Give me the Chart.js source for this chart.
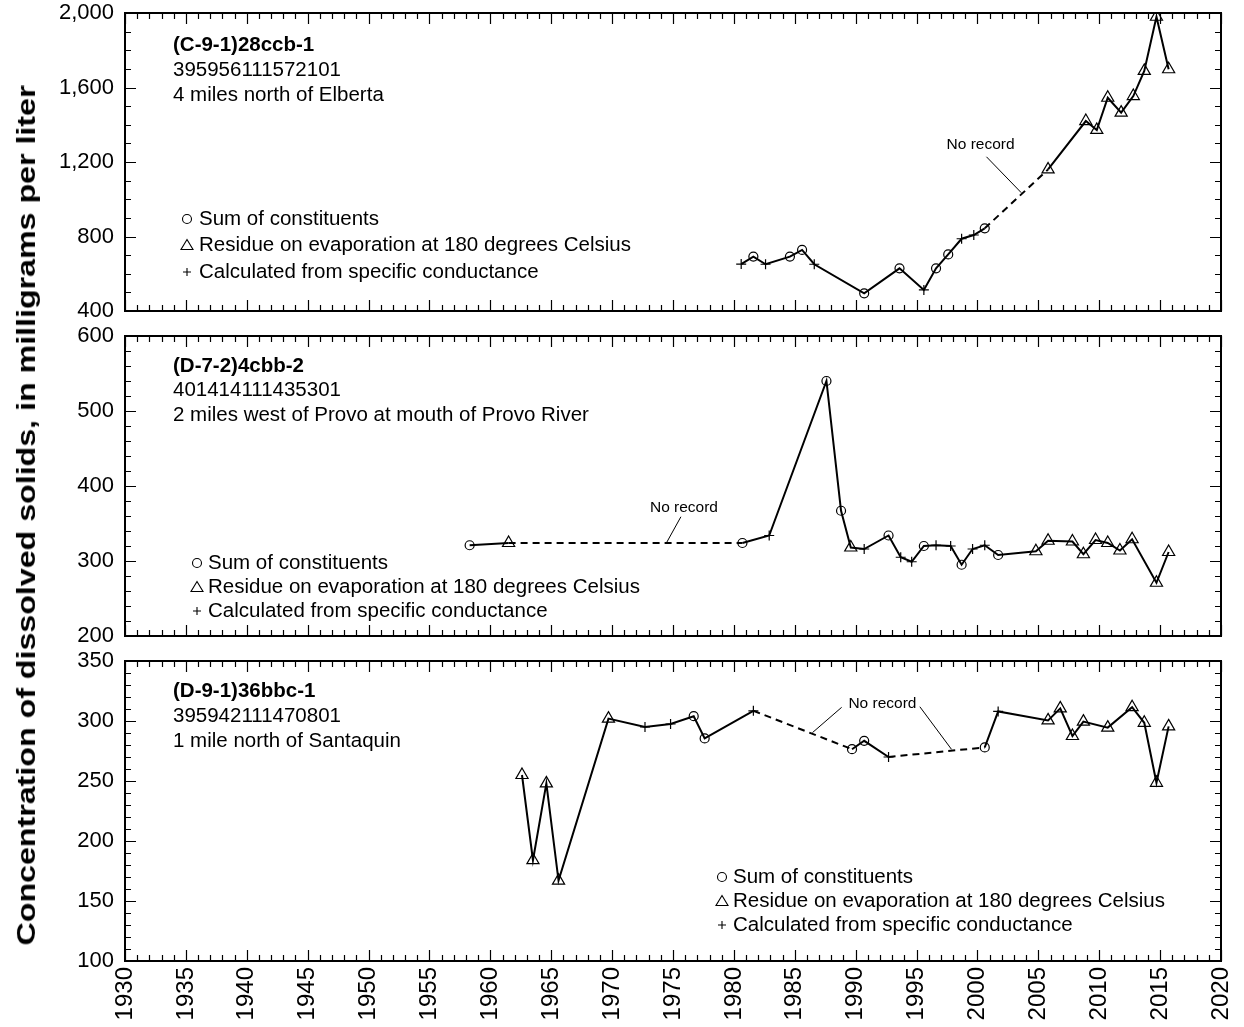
<!DOCTYPE html>
<html><head><meta charset="utf-8">
<script src="https://cdn.jsdelivr.net/npm/chart.js@4.4.0/dist/chart.umd.min.js"></script>
<style>
html,body{margin:0;padding:0;background:#fff;}
#wrap{position:relative;width:1244px;height:1027px;overflow:hidden;background:#fff;}
canvas{position:absolute;left:0;}
#ytitle{position:absolute;font:bold 26px "Liberation Sans",Arial,sans-serif;white-space:nowrap;color:#000;transform-origin:50% 50%;}
</style></head><body>
<div id="wrap">
<canvas id="c1" width="1244" height="323" style="top:0px"></canvas>
<canvas id="c2" width="1244" height="325" style="top:323px"></canvas>
<canvas id="c3" width="1244" height="379" style="top:648px"></canvas>
<div id="ytitle">Concentration of dissolved solids, in milligrams per liter</div>
</div>
<script>
// ---- Data: S = Sum of constituents, R = Residue on evaporation, C = Calculated from specific conductance
const elbertaYears  = [1980.6,1981.6,1982.6,1984.6,1985.6,1986.6,1990.7,1993.6,1995.6,1996.6,1997.6,1998.7,1999.7,2000.6,2005.8,2008.9,2009.8,2010.7,2011.8,2012.8,2013.7,2014.7,2015.7];
const elbertaValues = [652,692,651,692,728,651,495,629,513,629,704,788,808,844,1160,1420,1372,1545,1465,1554,1689,1980,1698];
const elbertaTypes  = ['C','S','C','S','S','C','S','S','C','S','S','C','C','S','R','R','R','R','R','R','R','R','R'];
const elbertaGaps   = [13];

const provoYears  = [1958.3,1961.5,1980.7,1982.9,1987.6,1988.8,1989.6,1990.7,1992.7,1993.7,1994.6,1995.6,1996.6,1997.8,1998.7,1999.6,2000.6,2001.7,2004.8,2005.8,2007.8,2008.7,2009.7,2010.7,2011.7,2012.7,2014.7,2015.7];
const provoValues = [321,324,324,334,540,367,318,316,334,305,299,320,321,320,295,316,321,308,313,327,326,309,328,324,314,329,271,312];
const provoTypes  = ['S','R','S','C','S','S','R','C','S','C','C','S','C','C','S','C','C','S','R','R','R','R','R','R','R','R','R','R'];
const provoGaps   = [1];

const santaquinYears  = [1962.6,1963.5,1964.6,1965.6,1969.7,1972.7,1974.8,1976.7,1977.6,1981.6,1989.7,1990.7,1992.7,2000.6,2001.7,2005.8,2006.8,2007.8,2008.7,2010.7,2012.7,2013.7,2014.7,2015.7];
const santaquinValues = [255,184,248,167,302,295,297.5,304,285.5,308.5,276.5,283.5,270,278,308,300.5,310.5,287.5,299.5,294.5,311.5,298.5,248.5,295.5];
const santaquinTypes  = ['R','R','R','R','R','C','C','S','S','C','S','S','C','S','C','R','R','R','R','R','R','R','R','R'];
const santaquinGaps   = [9,12];

const yearMin = 1930, yearMax = 2020, yearStep = 5;

const legendLabels = ['Sum of constituents','Residue on evaporation at 180 degrees Celsius','Calculated from specific conductance'];
const siteElberta   = ['(C-9-1)28ccb-1','395956111572101','4 miles north of Elberta'];
const siteProvo     = ['(D-7-2)4cbb-2','401414111435301','2 miles west of Provo at mouth of Provo River'];
const siteSantaquin = ['(D-9-1)36bbc-1','395942111470801','1 mile north of Santaquin'];

// "No record" notes, in data units: label [year,value], leaders [[y0,v0,y1,v1],...]
const noteElberta   = {label:[2000.26,1291], leaders:[[2000.74,1228,2003.6,1035]]};
const noteProvo     = {label:[1975.9,370.7], leaders:[[1975.65,359,1974.47,324.4]]};
const noteSantaquin = {label:[1992.2,314.2], leaders:[[1988.85,311.4,1986.45,290.3],[1995.27,311.9,1997.87,276.4]]};

const FONT = '"Liberation Sans", Arial, Helvetica, sans-serif';
const styleMap = {S:'circle', R:'triangle', C:'cross'};
const radiusMap = {S:4.5, R:7, C:5};

function drawSym(ctx, kind, x, y){
  ctx.save();
  ctx.strokeStyle='#000'; ctx.lineWidth=1.1;
  ctx.beginPath();
  if(kind==='S'){ ctx.arc(x,y,4.5,0,Math.PI*2); }
  else if(kind==='R'){ ctx.moveTo(x,y-5.5); ctx.lineTo(x+6,y+4.5); ctx.lineTo(x-6,y+4.5); ctx.closePath(); }
  else { ctx.moveTo(x-4,y); ctx.lineTo(x+4,y); ctx.moveTo(x,y-4); ctx.lineTo(x,y+4); }
  ctx.stroke();
  ctx.restore();
}

function makeDecor(cfg){
  return {
    id:'decor'+cfg.id,
    afterDraw(chart){
      const ctx = chart.ctx, a = chart.chartArea, xs = chart.scales.x, ys = chart.scales.y;
      ctx.save();
      ctx.strokeStyle='#000';
      // ticks (inward)
      ctx.lineWidth=1.2;
      ctx.beginPath();
      for(let yr=yearMin; yr<=yearMax; yr++){
        const px = Math.round(xs.getPixelForValue(yr))+0.5;
        const len = (yr%5===0)?11:6;
        ctx.moveTo(px,a.top); ctx.lineTo(px,a.top+len);
        ctx.moveTo(px,a.bottom); ctx.lineTo(px,a.bottom-len);
      }
      for(let v=ys.min; v<=ys.max+1e-9; v+=cfg.minorY){
        const py = Math.round(ys.getPixelForValue(v))+0.5;
        const major = Math.abs((v-ys.min)%cfg.majorY)<1e-6;
        const len = major?11:6;
        ctx.moveTo(a.left,py); ctx.lineTo(a.left+len,py);
        ctx.moveTo(a.right,py); ctx.lineTo(a.right-len,py);
      }
      ctx.stroke();
      // frame
      ctx.lineWidth=2;
      ctx.strokeRect(a.left,a.top,a.right-a.left,a.bottom-a.top);
      // site text
      ctx.fillStyle='#000';
      ctx.textBaseline='middle'; ctx.textAlign='left';
      cfg.site.forEach((t,i)=>{
        ctx.font=(i===0?'bold ':'')+'20.5px '+FONT;
        ctx.fillText(t, a.left+cfg.siteX, a.top+cfg.siteY[i]);
      });
      // legend
      ctx.font='20.5px '+FONT;
      ['S','R','C'].forEach((k,i)=>{
        const yy = a.top+cfg.legY[i];
        drawSym(ctx,k,a.left+cfg.legSymX,yy);
        ctx.fillText(legendLabels[i], a.left+cfg.legTextX, yy);
      });
      // No record notes
      ctx.font='15.5px '+FONT; ctx.textAlign='center';
      const n = cfg.note;
      ctx.fillText('No record', xs.getPixelForValue(n.label[0]), ys.getPixelForValue(n.label[1]));
      ctx.lineWidth=1;
      ctx.beginPath();
      n.leaders.forEach(l=>{
        ctx.moveTo(xs.getPixelForValue(l[0]), ys.getPixelForValue(l[1]));
        ctx.lineTo(xs.getPixelForValue(l[2]), ys.getPixelForValue(l[3]));
      });
      ctx.stroke();
      ctx.restore();
    }
  };
}

function makeChart(id, years, values, types, gaps, yMin, yMax, yStep, showX, pad, decorCfg){
  const gapSet = new Set(gaps);
  return new Chart(document.getElementById(id), {
    type:'line',
    data:{datasets:[{
      data: years.map((yr,i)=>({x:yr, y:values[i]})),
      borderColor:'#000', borderWidth:2, tension:0, fill:false,
      pointStyle: c=>styleMap[types[c.dataIndex]],
      pointRadius: c=>radiusMap[types[c.dataIndex]],
      pointBorderColor:'#000', pointBackgroundColor:'rgba(0,0,0,0)', pointBorderWidth:1.2,
      segment:{ borderDash: c=>gapSet.has(c.p0DataIndex)?[7,5]:undefined }
    }]},
    options:{
      responsive:false, animation:false, devicePixelRatio:1,
      layout:{padding:pad},
      plugins:{legend:{display:false}, tooltip:{enabled:false}},
      scales:{
        x:{type:'linear', min:yearMin, max:yearMax, display:showX,
           grid:{display:false, drawTicks:false}, border:{display:false},
           afterFit: s=>{ if(showX) s.height = 66; s.paddingLeft=0; s.paddingRight=0; s.paddingTop=0; s.paddingBottom=0; },
           ticks:{stepSize:yearStep, autoSkip:false, maxRotation:90, minRotation:90, padding:6,
                  color:'#000', font:{family:FONT, size:24}, callback:v=>String(v)}},
        y:{min:yMin, max:yMax,
           grid:{display:false, drawTicks:false}, border:{display:false},
           afterFit: s=>{ s.width = 125; s.paddingLeft=0; s.paddingRight=0; s.paddingTop=0; s.paddingBottom=0; },
           ticks:{stepSize:yStep, padding:11, color:'#000', font:{family:FONT, size:22}}}
      }
    },
    plugins:[makeDecor(decorCfg)]
  });
}

makeChart('c1', elbertaYears, elbertaValues, elbertaTypes, elbertaGaps, 400, 2000, 400, false,
  {top:13, bottom:12, left:0, right:23},
  {id:1, minorY:100, majorY:400, site:siteElberta, siteX:48, siteY:[32,57,82],
   legSymX:62, legTextX:74, legY:[206,232,259], note:noteElberta});
makeChart('c2', provoYears, provoValues, provoTypes, provoGaps, 200, 600, 100, false,
  {top:13, bottom:12, left:0, right:23},
  {id:2, minorY:20, majorY:100, site:siteProvo, siteX:48, siteY:[30,54,79],
   legSymX:72, legTextX:83, legY:[227,251,275], note:noteProvo});
makeChart('c3', santaquinYears, santaquinValues, santaquinTypes, santaquinGaps, 100, 350, 50, true,
  {top:13, bottom:0, left:0, right:23},
  {id:3, minorY:10, majorY:50, site:siteSantaquin, siteX:48, siteY:[30,55,80],
   legSymX:597, legTextX:608, legY:[216,240,264], note:noteSantaquin});

// y-axis title, stretched along its length to span the three panels
const t = document.getElementById('ytitle');
const w = t.offsetWidth, h = t.offsetHeight;
const k = 860 / w;
t.style.left = (26 - w/2) + 'px';
t.style.top = (515 - h/2) + 'px';
t.style.transform = 'rotate(-90deg) scaleX(' + k + ')';
</script>
</body></html>
